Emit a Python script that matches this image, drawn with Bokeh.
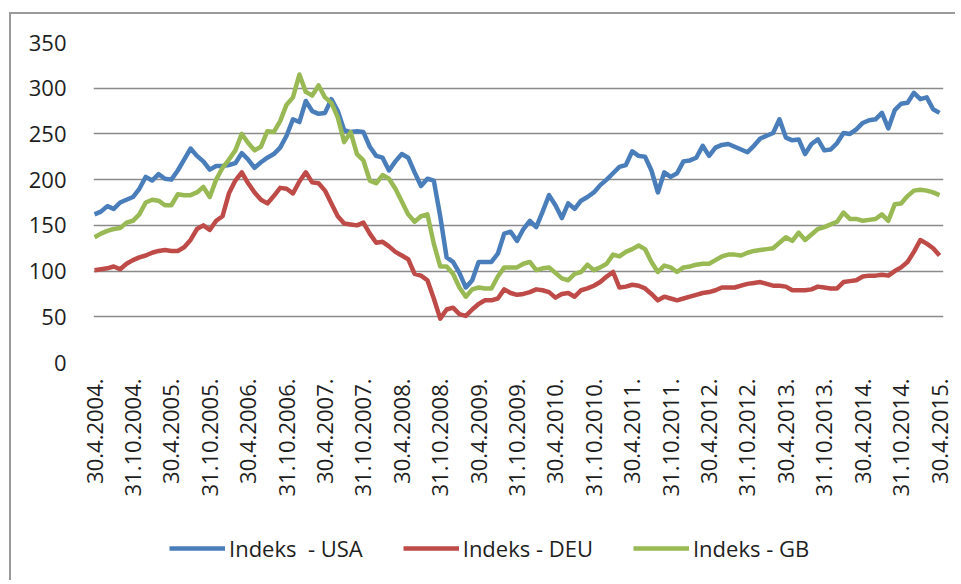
from bokeh.plotting import figure
from bokeh.models import Range1d, FixedTicker, Legend, LegendItem, InlineStyleSheet
from bokeh.layouts import column
from bokeh.embed import file_html
from bokeh.resources import INLINE

tick_labels = ["30.4.2004.", "31.10.2004.", "30.4.2005.", "31.10.2005.", "30.4.2006.",
               "31.10.2006.", "30.4.2007.", "31.10.2007.", "30.4.2008.", "31.10.2008.",
               "30.4.2009.", "31.10.2009.", "30.4.2010.", "31.10.2010.", "30.4.2011.",
               "31.10.2011.", "30.4.2012.", "31.10.2012.", "30.4.2013.", "31.10.2013.",
               "30.4.2014.", "31.10.2014.", "30.4.2015."]

usa = [162, 165, 171, 168, 175, 178, 181, 190, 203, 199,
       206, 201, 200, 210, 222, 234, 226, 220, 211, 215,
       215, 216, 218, 229, 222, 213, 219, 224, 228, 235,
       248, 266, 263, 286, 275, 272, 273, 288, 275, 254,
       252, 253, 252, 236, 226, 224, 210, 220, 228, 224,
       208, 193, 201, 199, 160, 115, 110, 98, 82, 90,
       110, 110, 110, 119, 141, 143, 133, 146, 155, 148,
       165, 183, 172, 158, 174, 168, 177, 181, 186, 194,
       200, 207, 214, 216, 231, 226, 225, 210, 186, 208,
       203, 207, 220, 221, 224, 237, 226, 235, 238, 239,
       236, 233, 230, 237, 245, 248, 251, 266, 246, 243,
       244, 228, 239, 244, 232, 233, 240, 251, 250, 255,
       262, 265, 266, 273, 256, 276, 283, 284, 295, 288,
       290, 277, 273]

deu = [101, 102, 103, 105, 102, 108, 112, 115, 117, 120,
       122, 123, 122, 122, 126, 134, 146, 150, 145, 155,
       160, 185, 199, 208, 196, 186, 178, 174, 182, 191,
       190, 185, 198, 208, 197, 196, 188, 174, 160, 152,
       151, 150, 153, 141, 131, 132, 127, 121, 117, 113,
       97, 95, 90, 70, 48, 58, 60, 53, 51, 58,
       64, 68, 68, 70, 80, 76, 74, 75, 77, 80,
       79, 77, 71, 75, 76, 72, 79, 81, 84, 88,
       94, 99, 82, 83, 85, 84, 81, 75, 68, 72,
       70, 68, 70, 72, 74, 76, 77, 79, 82, 82,
       82, 84, 86, 87, 88, 86, 84, 84, 83, 79,
       79, 79, 80, 83, 82, 81, 81, 88, 89, 90,
       94, 95, 95, 96, 95, 100, 104, 110, 121, 134,
       130, 125, 117]

gb = [137, 141, 144, 146, 147, 153, 155, 162, 175, 178,
      177, 172, 172, 184, 183, 183, 186, 192, 181, 200,
      213, 222, 232, 250, 240, 232, 236, 253, 252, 264,
      282, 290, 315, 296, 292, 303, 290, 284, 268, 241,
      252, 228, 221, 199, 196, 205, 201, 190, 176, 162,
      154, 160, 162, 130, 105, 105, 97, 82, 72, 80,
      82, 81, 81, 94, 104, 104, 104, 108, 110, 101,
      103, 104, 98, 92, 90, 97, 99, 107, 101, 104,
      108, 118, 116, 121, 124, 128, 124, 110, 99, 106,
      104, 99, 104, 105, 107, 108, 108, 112, 116, 118,
      118, 117, 120, 122, 123, 124, 125, 131, 137, 133,
      142, 134, 140, 146, 148, 151, 154, 164, 157, 157,
      155, 156, 157, 162, 155, 173, 174, 182, 188, 189,
      188, 186, 183]

series_names = ["Indeks  - USA", "Indeks - DEU", "Indeks - GB"]
colors = ["#4A7EBB", "#BE4B48", "#98B954"]

months = list(range(len(usa)))
tick_pos = list(range(0, len(usa), 6))

FONT = "Open Sans"
TXT = "#1e1e1e"
FS = "22px"
W = 955

# ---- main chart ----
p = figure(width=W, height=522, output_backend="svg", toolbar_location=None,
           x_range=Range1d(-0.16, 132.62), y_range=Range1d(0, 350),
           min_border_left=93, min_border_right=12, min_border_top=42,
           min_border_bottom=160)
p.outline_line_color = None
p.background_fill_color = "white"
p.border_fill_color = "white"
p.border_fill_alpha = 0
p.stylesheets = [InlineStyleSheet(
    css=":host { box-shadow: inset 9px 12px 0 0 #ffffff, inset 11px 14px 0 0 #9a9a9a; }")]

p.xgrid.grid_line_color = None
p.ygrid.grid_line_color = "#8a8a8a"
p.ygrid.grid_line_width = 1.6

p.yaxis.ticker = FixedTicker(ticks=[0, 50, 100, 150, 200, 250, 300, 350])
p.xaxis.ticker = FixedTicker(ticks=tick_pos)
p.xaxis.major_label_overrides = {t: lab for t, lab in zip(tick_pos, tick_labels)}
p.xaxis.major_label_orientation = 1.5708

for ax in (p.xaxis[0], p.yaxis[0]):
    ax.axis_line_color = None
    ax.major_tick_line_color = None
    ax.minor_tick_line_color = None
    ax.major_tick_out = 0
    ax.major_tick_in = 0
    ax.major_label_text_font = FONT
    ax.major_label_text_font_size = FS
    ax.major_label_text_color = TXT
p.yaxis.major_label_standoff = 27
p.xaxis.major_label_standoff = 16

for vals, col in zip([usa, deu, gb], colors):
    p.line(months, vals, line_color=col, line_width=4.5, line_join="round")

# ---- legend strip (its own lines lie far outside its tiny range, so only swatches show) ----
q = figure(width=W, height=58, output_backend="svg", toolbar_location=None,
           x_axis_type=None, y_axis_type=None,
           x_range=Range1d(0, 1), y_range=Range1d(-2, -1),
           min_border_left=0, min_border_right=0, min_border_top=0, min_border_bottom=0)
q.outline_line_color = None
q.grid.grid_line_color = None
q.background_fill_alpha = 0
q.border_fill_alpha = 0
q.stylesheets = [InlineStyleSheet(
    css=":host { box-shadow: inset 9px 0 0 0 #ffffff, inset 11px 0 0 0 #9a9a9a; }")]

swatches = [q.line(months, vals, line_color=col, line_width=4.5)
            for vals, col in zip([usa, deu, gb], colors)]
legend = Legend(items=[LegendItem(label=n, renderers=[r]) for n, r in zip(series_names, swatches)],
                orientation="horizontal", location=(76, 17),
                label_text_font=FONT, label_text_font_size=FS, label_text_color=TXT,
                glyph_width=56, glyph_height=20, label_standoff=4, spacing=40,
                border_line_color=None, background_fill_alpha=0, margin=0, padding=0)
q.add_layout(legend, "center")

layout = column(p, q, spacing=0)
open("out.html", "w").write(file_html(layout, INLINE))
